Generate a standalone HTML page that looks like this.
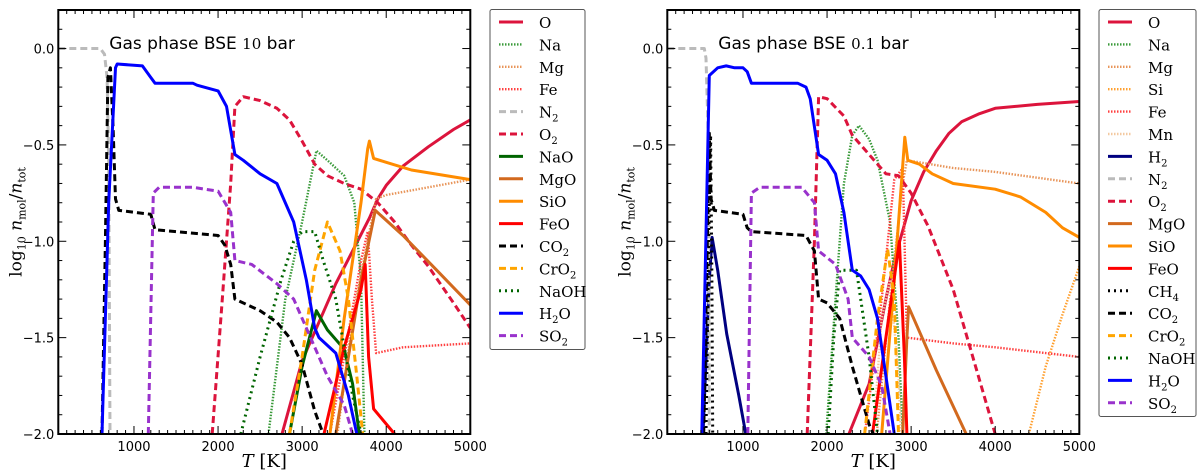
<!DOCTYPE html>
<html><head><meta charset="utf-8">
<style>
html,body{margin:0;padding:0;background:#fff;}
svg{display:block;}
text{font-family:"DejaVu Sans","Liberation Sans",sans-serif;}
.serif{font-family:"DejaVu Serif","Liberation Serif",serif;}
</style></head>
<body>
<svg id="chart" width="1200" height="476" xmlns="http://www.w3.org/2000/svg"></svg>
<script>
// ---------------- DATA ----------------
const xTicks = [1000, 2000, 3000, 4000, 5000];
const yTicks = [0.0, -0.5, -1.0, -1.5, -2.0];
const yTickLabels = ["0.0", "\u22120.5", "\u22121.0", "\u22121.5", "\u22122.0"];
const panelTitles = ["10", "0.1"];

// Left panel (10 bar) series: [T, log10 n]
const L_O = [[2760,-2],[2900,-1.78],[3000,-1.62],[3200,-1.42],[3400,-1.22],[3600,-1.05],[3800,-0.88],[3900,-0.78],[4000,-0.71],[4200,-0.61],[4500,-0.51],[4800,-0.42],[5000,-0.37]];
const L_Na = [[2600,-2],[2800,-1.3],[3000,-0.9],[3170,-0.53],[3300,-0.58],[3500,-0.66],[3620,-0.8],[3700,-1.2],[3740,-2]];
const L_Mg = [[3420,-2],[3600,-1.4],[3800,-0.95],[3880,-0.78],[4000,-0.76],[4500,-0.72],[5000,-0.68]];
const L_Fe = [[3330,-2],[3500,-1.6],[3700,-1.1],[3780,-0.95],[3830,-1.3],[3880,-1.58],[4200,-1.55],[5000,-1.53]];
const L_N2 = [[100,0],[600,0],[650,-0.03],[680,-0.15],[700,-0.6],[715,-2]];
const L_O2 = [[1930,-2],[2050,-1.3],[2150,-0.7],[2200,-0.3],[2300,-0.25],[2500,-0.27],[2700,-0.31],[2850,-0.37],[3000,-0.48],[3150,-0.6],[3300,-0.66],[3500,-0.7],[3700,-0.73],[3900,-0.8],[4100,-0.9],[4300,-1.02],[4500,-1.13],[4800,-1.32],[5000,-1.45]];
const L_NaO = [[2850,-2],[3000,-1.65],[3170,-1.36],[3300,-1.46],[3500,-1.56],[3600,-1.74],[3680,-2]];
const L_MgO = [[3400,-2],[3550,-1.6],[3700,-1.2],[3870,-0.84],[4200,-0.97],[4600,-1.15],[5000,-1.33]];
const L_SiO = [[3330,-2],[3500,-1.4],[3700,-0.8],[3780,-0.52],[3800,-0.48],[3850,-0.57],[4000,-0.59],[4300,-0.63],[5000,-0.68]];
const L_FeO = [[3260,-2],[3500,-1.55],[3700,-1.25],[3750,-1.12],[3790,-1.6],[3850,-1.87],[4100,-2]];
const L_CO2 = [[620,-2],[660,-1],[690,-0.15],[720,-0.1],[750,-0.4],[780,-0.78],[820,-0.84],[1200,-0.86],[1250,-0.94],[2000,-0.97],[2080,-1.02],[2150,-1.12],[2200,-1.3],[2500,-1.36],[2700,-1.42],[2850,-1.5],[3000,-1.64],[3150,-1.88],[3250,-2]];
const L_CrO2 = [[2850,-2],[3000,-1.6],[3150,-1.15],[3300,-0.9],[3450,-1.05],[3550,-1.3],[3650,-1.7],[3720,-2]];
const L_NaOH = [[2270,-2],[2500,-1.6],[2750,-1.2],[2900,-1.0],[3000,-0.95],[3150,-0.95],[3250,-1.1],[3400,-1.3],[3500,-1.55],[3600,-1.8],[3700,-2]];
const L_H2O = [[620,-2],[700,-0.8],[780,-0.1],[800,-0.08],[1100,-0.09],[1200,-0.15],[1250,-0.18],[1700,-0.18],[1750,-0.19],[2000,-0.22],[2100,-0.3],[2200,-0.55],[2300,-0.58],[2500,-0.65],[2700,-0.7],[2900,-0.9],[3050,-1.2],[3150,-1.45],[3200,-1.5],[3400,-1.58],[3550,-1.8],[3650,-2]];
const L_SO2 = [[1170,-2],[1230,-0.75],[1300,-0.72],[1700,-0.72],[2000,-0.74],[2150,-0.85],[2200,-1.1],[2400,-1.12],[2700,-1.22],[2900,-1.3],[3100,-1.5],[3300,-1.7],[3500,-1.85],[3600,-2]];

// Right panel (0.1 bar)
const R_O = [[2260,-2],[2500,-1.74],[2700,-1.3],[2800,-1.1],[3000,-0.79],[3150,-0.64],[3300,-0.53],[3450,-0.44],[3600,-0.38],[3800,-0.34],[4000,-0.31],[4500,-0.29],[5000,-0.275]];
const R_Na = [[1990,-2],[2100,-1.3],[2200,-0.7],[2300,-0.45],[2380,-0.4],[2500,-0.47],[2600,-0.58],[2750,-0.9],[2850,-1.5],[2900,-2]];
const R_Mg = [[2590,-2],[2750,-1.3],[2900,-0.7],[2950,-0.58],[3500,-0.62],[4000,-0.64],[5000,-0.7]];
const R_Si = [[4400,-2],[4600,-1.65],[4800,-1.38],[5000,-1.13]];
const R_Fe = [[2450,-2],[2650,-1.3],[2800,-0.68],[2900,-0.62],[2950,-1.5],[3500,-1.53],[4000,-1.55],[5000,-1.6]];
const R_Mn = [[2550,-2],[2650,-1.4],[2750,-1.2],[2850,-1.7],[2880,-2]];
const R_H2 = [[524,-2],[600,-1.2],[633,-0.98],[700,-1.15],[806,-1.48],[950,-1.8],[1034,-2]];
const R_N2 = [[100,0],[540,0],[560,-0.05],[590,-0.5],[600,-2]];
const R_O2 = [[1764,-2],[1850,-1.0],[1900,-0.25],[2000,-0.26],[2200,-0.35],[2300,-0.45],[2500,-0.55],[2700,-0.65],[2850,-0.66],[3000,-0.75],[3200,-0.92],[3500,-1.25],[3800,-1.7],[4000,-2]];
const R_MgO = [[2900,-2],[2950,-1.5],[2970,-1.34],[3300,-1.67],[3655,-2]];
const R_SiO = [[2650,-2],[2800,-1.2],[2925,-0.46],[2960,-0.58],[3100,-0.6],[3250,-0.65],[3500,-0.7],[4000,-0.73],[4300,-0.77],[4600,-0.85],[4800,-0.93],[5000,-0.98]];
const R_FeO = [[2540,-2],[2700,-1.5],[2860,-1.0],[2920,-1.6],[2950,-2]];
const R_CH4 = [[560,-2],[600,-0.8],[615,-0.45],[630,-1.2],[640,-2]];
const R_CO2 = [[533,-2],[600,-0.44],[620,-0.78],[660,-0.84],[1000,-0.86],[1050,-0.93],[1100,-0.95],[1750,-0.97],[1850,-1.05],[1900,-1.3],[2000,-1.32],[2150,-1.4],[2300,-1.65],[2400,-1.8],[2500,-1.95],[2550,-2]];
const R_CrO2 = [[2447,-2],[2600,-1.4],[2720,-1.04],[2800,-1.3],[2850,-2]];
const R_NaOH = [[2014,-2],[2080,-1.5],[2150,-1.15],[2350,-1.15],[2500,-1.6],[2600,-2]];
const R_H2O = [[510,-2],[600,-0.14],[700,-0.1],[800,-0.09],[900,-0.1],[1000,-0.1],[1050,-0.12],[1100,-0.18],[1650,-0.18],[1750,-0.2],[1800,-0.26],[1900,-0.55],[2000,-0.58],[2100,-0.65],[2200,-0.85],[2300,-1.15],[2400,-1.18],[2500,-1.25],[2600,-1.4],[2700,-1.7],[2800,-2]];
const R_SO2 = [[1057,-2],[1100,-0.75],[1200,-0.72],[1700,-0.72],[1850,-0.8],[1900,-1.05],[2100,-1.12],[2250,-1.3],[2300,-1.5],[2500,-1.6],[2650,-1.75],[2750,-2]];

// ---------------- STYLES ----------------
const ST = {
  O:{c:"#dc143c",w:3,d:""}, Na:{c:"#3a9a3a",w:2.4,d:"1.5,1.5"}, Mg:{c:"#e8955a",w:2.4,d:"1.5,1.5"},
  Si:{c:"#ffa030",w:2.4,d:"1.5,1.5"}, Fe:{c:"#ff4040",w:2.4,d:"1.5,1.5"}, Mn:{c:"#f3c9a0",w:2.4,d:"1.5,1.5"},
  H2:{c:"#000080",w:3,d:""}, N2:{c:"#bbbbbb",w:3,d:"7,4"}, O2:{c:"#dc143c",w:3,d:"7,4"},
  NaO:{c:"#006400",w:3,d:""}, MgO:{c:"#d2691e",w:3,d:""}, SiO:{c:"#ff8c00",w:3,d:""},
  FeO:{c:"#ff0000",w:3,d:""}, CH4:{c:"#000000",w:3,d:"2,4"}, CO2:{c:"#000000",w:3,d:"7,4"},
  CrO2:{c:"#ffa500",w:3,d:"7,4"}, NaOH:{c:"#006400",w:3,d:"2,4"}, H2O:{c:"#0000ff",w:3,d:""},
  SO2:{c:"#9932cc",w:3,d:"7,4"}
};
const LABELS = {O:["O"],Na:["Na"],Mg:["Mg"],Si:["Si"],Fe:["Fe"],Mn:["Mn"],H2:["H","2"],N2:["N","2"],O2:["O","2"],
  NaO:["NaO"],MgO:["MgO"],SiO:["SiO"],FeO:["FeO"],CH4:["CH","4"],CO2:["CO","2"],CrO2:["CrO","2"],NaOH:["NaOH"],H2O:["H","2","O"],SO2:["SO","2"]};

const leftSeries = [["O",L_O],["Na",L_Na],["Mg",L_Mg],["Fe",L_Fe],["N2",L_N2],["O2",L_O2],["NaO",L_NaO],["MgO",L_MgO],["SiO",L_SiO],["FeO",L_FeO],["CO2",L_CO2],["CrO2",L_CrO2],["NaOH",L_NaOH],["H2O",L_H2O],["SO2",L_SO2]];
const rightSeries = [["O",R_O],["Na",R_Na],["Mg",R_Mg],["Si",R_Si],["Fe",R_Fe],["Mn",R_Mn],["H2",R_H2],["N2",R_N2],["O2",R_O2],["MgO",R_MgO],["SiO",R_SiO],["FeO",R_FeO],["CH4",R_CH4],["CO2",R_CO2],["CrO2",R_CrO2],["NaOH",R_NaOH],["H2O",R_H2O],["SO2",R_SO2]];

// ---------------- DRAW ----------------
const NS = "http://www.w3.org/2000/svg";
const svg = document.getElementById("chart");
function mk(tag, attrs, parent){ const e=document.createElementNS(NS,tag); for(const k in attrs) e.setAttribute(k,attrs[k]); (parent||svg).appendChild(e); return e; }

const XMIN=100, XMAX=5000, YMIN=-2, YMAX=0.2;
const TOP=10, BOT=434, PW=412;

function drawPanel(idx, x0, series, legX, legW, legH){
  const sx = t => x0 + (t-XMIN)/(XMAX-XMIN)*PW;
  const sy = v => BOT - (v-YMIN)/(YMAX-YMIN)*(BOT-TOP);
  const g = mk("g",{});
  
  
  const cid = "clip"+idx;
  const cp = mk("clipPath",{id:cid},g);
  mk("rect",{x:x0,y:TOP,width:PW,height:BOT-TOP},cp);
  const lines = mk("g",{"clip-path":"url(#"+cid+")"},g);
  for(const [key,data] of series){
    const s=ST[key];
    const p = mk("polyline",{points:data.map(d=>sx(d[0]).toFixed(1)+","+sy(d[1]).toFixed(1)).join(" "),fill:"none",stroke:s.c,"stroke-width":s.w,"stroke-dasharray":s.d,"stroke-linejoin":"round"},lines);
    
    
  }
  const tk = mk("g",{stroke:"#000","stroke-width":1},g);
  for(let t=200;t<=XMAX;t+=100){
    const major = t%1000===0, L = major?8:4, x=sx(t);
    mk("line",{x1:x,y1:BOT,x2:x,y2:BOT-L},tk);
    mk("line",{x1:x,y1:TOP,x2:x,y2:TOP+L},tk);
  }
  for(let i=-20;i<=2;i++){
    const v=i/10, major = i%5===0, L=major?8:4, y=sy(v);
    mk("line",{x1:x0,y1:y,x2:x0+L,y2:y},tk);
    mk("line",{x1:x0+PW,y1:y,x2:x0+PW-L,y2:y},tk);
  }
  const fr = mk("rect",{x:x0,y:TOP,width:PW,height:BOT-TOP,fill:"none",stroke:"#000","stroke-width":2},g);
  
  
  xTicks.forEach(t=>{
    const e=mk("text",{x:sx(t),y:BOT+17,"font-size":13,"text-anchor":"middle"},g); e.textContent=t;
    
    
  });
  yTicks.forEach((v,i)=>{
    const e=mk("text",{x:x0-4,y:sy(v)+5,"font-size":13,"text-anchor":"end"},g); e.textContent=yTickLabels[i];
    
    
  });
  const tt = mk("text",{x:x0+51,y:49,"font-size":17},g);
  
  
  tt.innerHTML = 'Gas phase BSE <tspan class="serif" font-size="15">'+panelTitles[idx]+'</tspan> bar';
  const xt = mk("text",{x:x0+206,y:467,"font-size":18,"text-anchor":"middle",class:"serif"},g);
  
  
  xt.innerHTML = '<tspan font-style="italic">T</tspan> [K]';
  const yt = mk("text",{x:0,y:0,"font-size":17,"text-anchor":"middle",class:"serif",transform:"translate("+(x0-37)+",222) rotate(-90)"},g);
  
  
  yt.innerHTML = 'log<tspan font-size="11" dy="4">10</tspan><tspan dy="-4"> </tspan><tspan font-style="italic">n</tspan><tspan font-size="11" dy="4">mol</tspan><tspan dy="-4">/</tspan><tspan font-style="italic">n</tspan><tspan font-size="11" dy="4">tot</tspan>';
  const lg = mk("g",{},g);
  
  
  mk("rect",{x:legX,y:9.5,width:legW,height:legH,fill:"#fff",stroke:"#555","stroke-width":1,rx:2},lg);
  series.forEach(([key],i)=>{
    const y = 22 + i*22.4, s=ST[key];
    const it = mk("g",{},lg);
    
    
    mk("line",{x1:legX+9,y1:y,x2:legX+33,y2:y,stroke:s.c,"stroke-width":s.w,"stroke-dasharray":s.d},it);
    const lb = LABELS[key];
    const tx = mk("text",{x:legX+49,y:y+6,"font-size":15,class:"serif"},it);
    let h = lb[0];
    if(lb.length>1) h += '<tspan font-size="10" dy="4">'+lb[1]+'</tspan>';
    if(lb.length>2) h += '<tspan dy="-4">'+lb[2]+'</tspan>';
    tx.innerHTML = h;
  });
}
drawPanel(0, 58.3, leftSeries, 490, 95, 340);
drawPanel(1, 667.3, rightSeries, 1099, 97, 407);
</script>
</body></html>
